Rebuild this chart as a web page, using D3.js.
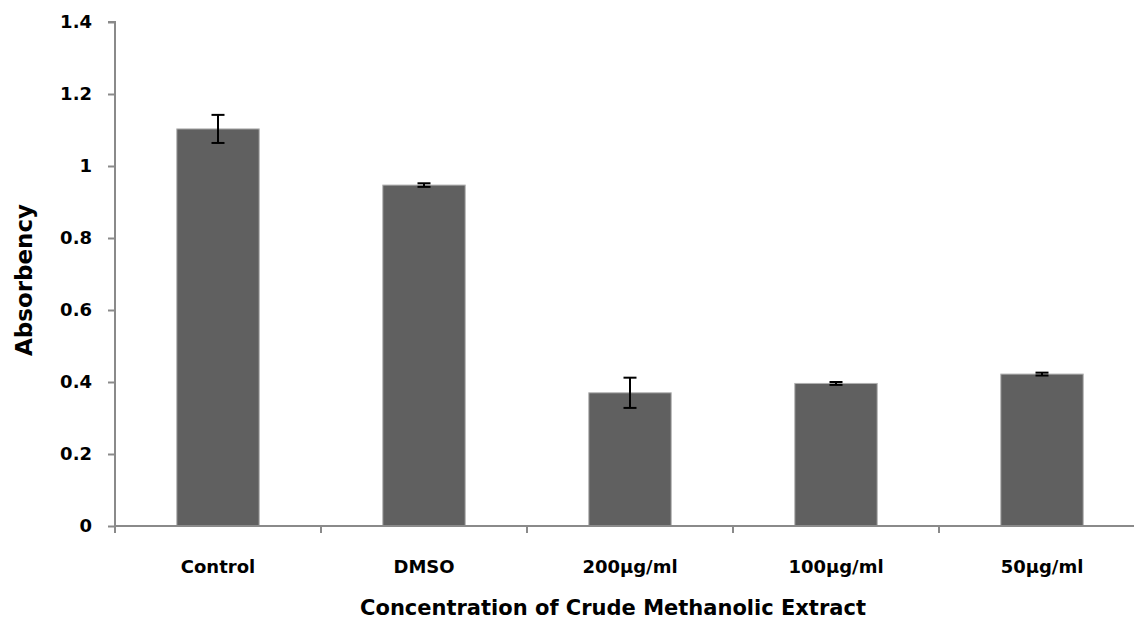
<!DOCTYPE html>
<html>
<head>
<meta charset="utf-8">
<script src="https://cdn.jsdelivr.net/npm/d3@7"></script>
<style>
  html, body { margin: 0; padding: 0; background: #fff; }
  svg { display: block; }
  text { font-family: "DejaVu Sans", sans-serif; font-weight: bold; fill: #000; }
</style>
</head>
<body>
<svg id="chart" width="1134" height="626"></svg>
<script>
const categories = ["Control", "DMSO", "200µg/ml", "100µg/ml", "50µg/ml"];
const values = [1.103, 0.947, 0.370, 0.396, 0.422];
const errors = [0.039, 0.005, 0.042, 0.004, 0.004];
const yTicks = [0, 0.2, 0.4, 0.6, 0.8, 1, 1.2, 1.4];
const xTitle = "Concentration of Crude Methanolic Extract";
const yTitle = "Absorbency";

const svg = d3.select("#chart");
const x0 = 115, x1 = 1145, yTop = 22, yBottom = 526;

const x = d3.scaleBand().domain(categories).range([x0, x1]).paddingInner(0.6).paddingOuter(0.3);
const y = d3.scaleLinear().domain([0, 1.4]).range([yBottom, yTop]);

// Bars
svg.append("g").selectAll("rect").data(categories).join("rect")
  .attr("x", d => x(d))
  .attr("y", (d, i) => y(values[i]))
  .attr("width", x.bandwidth())
  .attr("height", (d, i) => y(0) - y(values[i]))
  .attr("fill", "#606060")
  .attr("stroke", "#b0b0b0")
  .attr("stroke-width", 1);

// Error bars
const eg = svg.append("g").attr("stroke", "#000").attr("stroke-width", 2);
categories.forEach((c, i) => {
  const cx = x(c) + x.bandwidth() / 2;
  const hi = y(values[i] + errors[i]), lo = y(values[i] - errors[i]);
  eg.append("line").attr("x1", cx).attr("x2", cx).attr("y1", hi).attr("y2", lo);
  eg.append("line").attr("x1", cx - 6.5).attr("x2", cx + 6.5).attr("y1", hi).attr("y2", hi);
  eg.append("line").attr("x1", cx - 6.5).attr("x2", cx + 6.5).attr("y1", lo).attr("y2", lo);
});

// Y axis
const yAxis = d3.axisLeft(y).tickValues(yTicks).tickSize(7).tickPadding(16)
  .tickFormat(d => d3.format("")(d));
const yg = svg.append("g").attr("transform", `translate(${x0},0)`).call(yAxis);
yg.select(".domain").attr("stroke", "#8a8a8a").attr("stroke-width", 2).attr("d", `M-7,${yTop}H0V${yBottom + 7}`);
yg.selectAll(".tick line").attr("stroke", "#8a8a8a").attr("stroke-width", 2);
yg.selectAll(".tick text").style("font-size", "18px").style("font-family", "DejaVu Sans").style("font-weight", "bold").attr("fill", "#000");

// X axis
const xAxis = d3.axisBottom(x).tickSize(0).tickPadding(34);
const xg = svg.append("g").attr("transform", `translate(0,${yBottom})`).call(xAxis);
xg.select(".domain").attr("stroke", "#8a8a8a").attr("stroke-width", 2).attr("d", `M${x0},0H${x1}`);
xg.selectAll(".tick text").style("font-size", "18px").style("font-family", "DejaVu Sans").style("font-weight", "bold").attr("fill", "#000");
// tick marks between categories
const step = x.step();
const boundaries = d3.range(categories.length + 1).map(i => x0 + i * step);
xg.selectAll("line.sep").data(boundaries).join("line").attr("class", "sep")
  .attr("x1", d => d).attr("x2", d => d).attr("y1", 0).attr("y2", 7)
  .attr("stroke", "#8a8a8a").attr("stroke-width", 2);

// Titles
svg.append("text").attr("x", 613).attr("y", 615).attr("text-anchor", "middle")
  .style("font-size", "21px").text(xTitle);
svg.append("text").attr("transform", "translate(32,280) rotate(-90)").attr("text-anchor", "middle")
  .style("font-size", "23px").text(yTitle);
</script>
</body>
</html>
